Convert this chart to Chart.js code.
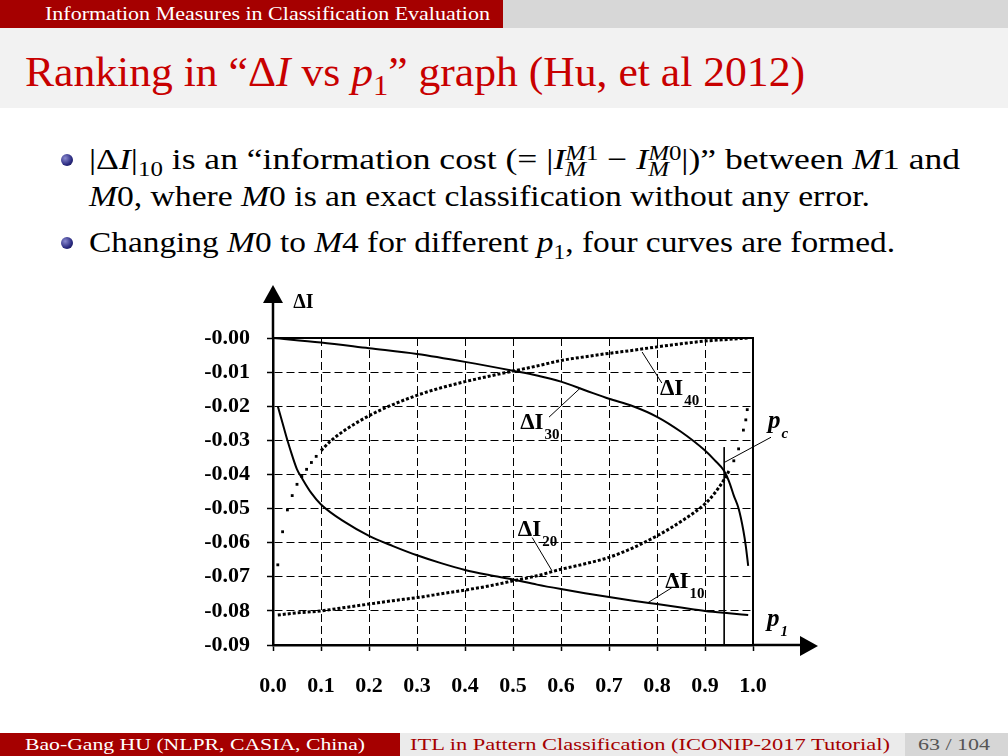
<!DOCTYPE html>
<html lang="en">
<head>
<meta charset="UTF-8">
<title>Ranking in ΔI vs p1 graph</title>
<script src="https://cdn.jsdelivr.net/npm/chart.js"></script>
<style>
  body { margin: 0; background: #fff; }
  .slide { position: relative; width: 1008px; height: 756px; overflow: hidden; background: #fff; font-family: 'Liberation Serif', serif; }
  .topbar { position: absolute; left: 0; top: 0; width: 1008px; height: 28px; background: #d7d7d7; }
  .topbar .sec { position: absolute; left: 0; top: 0; width: 503px; height: 28px; background: #a50000; }
  .topbar .sec span { position: absolute; left: 45px; top: 0; color: #fff; font-size: 18px; line-height: 28px; white-space: nowrap; }
  .titlebar { position: absolute; left: 0; top: 28px; width: 1008px; height: 80px; background: #f2f2f2; }
  .titlebar h1 { position: absolute; left: 25px; top: 23px; margin: 0; font-weight: normal; font-size: 42px; line-height: 42px; color: #c80000; white-space: nowrap; }
  .line { position: absolute; left: 89px; font-size: 30px; line-height: 30px; white-space: nowrap; color: #000; }
  .ss { display: inline-block; vertical-align: -0.35em; line-height: 0.8em; font-size: 0.7em; text-align: left; }
  .ss span { display: block; }
  .fit { transform-origin: 0 50%; }
  .bullet { position: absolute; width: 12px; height: 12px; border-radius: 50%; background: radial-gradient(circle at 35% 35%, #8a8ad0, #2a2a80 60%, #101040); }
  .footer { position: absolute; left: 0; top: 733px; width: 1008px; height: 23px; font-size: 16px; line-height: 23px; }
  .footer > div { position: absolute; top: 0; height: 23px; }
  .footer span { position: absolute; top: 0; white-space: nowrap; }
  .f1 { left: 0; width: 400px; background: #a50000; color: #fff; }
  .f2 { left: 400px; width: 505px; background: #ebebeb; color: #a50000; }
  .f3 { left: 905px; width: 103px; background: #d6d6d6; color: #555; }
  #chart { position: absolute; left: 160px; top: 270px; }
</style>
</head>
<body>
<div class="slide">
  <div class="topbar"><div class="sec"><span class="fit" data-w="445">Information Measures in Classification Evaluation</span></div></div>
  <div class="titlebar"><h1 class="fit" data-w="780">Ranking in “Δ<i>I</i> vs <i>p</i><sub style="font-size:0.7em">1</sub>” graph (Hu, et al 2012)</h1></div>

  <div class="bullet" style="left:61px; top:154px"></div>
  <div class="line fit" data-w="871" style="top:144px">|Δ<i>I</i>|<sub style="font-size:0.7em">10</sub> is an “information cost (= |<i>I</i><span class="ss"><span><i>M</i>1</span><span><i>M</i></span></span> − <i>I</i><span class="ss"><span><i>M</i>0</span><span><i>M</i></span></span>|)” between <i>M</i>1 and</div>
  <div class="line fit" data-w="781" style="top:181px"><i>M</i>0, where <i>M</i>0 is an exact classification without any error.</div>
  <div class="bullet" style="left:61px; top:237px"></div>
  <div class="line fit" data-w="806" style="top:227px">Changing <i>M</i>0 to <i>M</i>4 for different <i>p</i><sub style="font-size:0.7em">1</sub>, four curves are formed.</div>

  <canvas id="chart" width="690" height="440"></canvas>

  <div class="footer">
    <div class="f1"><span class="fit" data-w="340" style="left:25px">Bao-Gang HU (NLPR, CASIA, China)</span></div>
    <div class="f2"><span class="fit" data-w="480" style="left:10px">ITL in Pattern Classification (ICONIP-2017 Tutorial)</span></div>
    <div class="f3"><span class="fit" data-w="72" style="left:13px">63 / 104</span></div>
  </div>
</div>

<script>
  // stretch slide text to the widths of the original typesetting
  document.querySelectorAll('.fit').forEach(el => {
    const w = el.getBoundingClientRect().width;
    el.style.transform = 'scaleX(' + (Number(el.dataset.w) / w) + ')';
  });

  // p1 values and ΔI
  const p10 = [0.01, 0.02, 0.03, 0.04, 0.05, 0.06, 0.08, 0.1, 0.15, 0.2, 0.25, 0.3, 0.35, 0.4, 0.45, 0.5, 0.55, 0.6, 0.65, 0.7, 0.75, 0.8, 0.85, 0.9, 0.95, 0.99];
  const dI10 = [-0.020, -0.025, -0.030, -0.0345, -0.0385, -0.041, -0.0455, -0.0488, -0.054, -0.058, -0.061, -0.0637, -0.066, -0.068, -0.0695, -0.0708, -0.0723, -0.0736, -0.0748, -0.0759, -0.077, -0.078, -0.079, -0.080, -0.0807, -0.0812];

  // ΔI20: dotted, dense part then sparse dots near p1 = 1
  const p20 = [0.01, 0.05, 0.1, 0.15, 0.2, 0.25, 0.3, 0.35, 0.4, 0.45, 0.5, 0.55, 0.6, 0.65, 0.7, 0.75, 0.8, 0.85, 0.9, 0.92, 0.94, 0.95];
  const dI20 = [-0.0812, -0.0806, -0.080, -0.079, -0.078, -0.077, -0.0761, -0.075, -0.0739, -0.0727, -0.0712, -0.0697, -0.0678, -0.0662, -0.0643, -0.0615, -0.058, -0.0538, -0.0486, -0.0455, -0.0415, -0.039];
  const p20dots = [0.96, 0.97, 0.98, 0.985, 0.988];
  const dI20dots = [-0.036, -0.0325, -0.027, -0.024, -0.021];

  const p30 = [0.0, 0.1, 0.2, 0.3, 0.4, 0.5, 0.55, 0.6, 0.65, 0.7, 0.75, 0.8, 0.85, 0.9, 0.92, 0.94, 0.95, 0.96, 0.97, 0.98, 0.985, 0.99];
  const dI30 = [0.0, -0.0013, -0.003, -0.0047, -0.007, -0.0096, -0.011, -0.0128, -0.0153, -0.0178, -0.020, -0.0231, -0.0275, -0.033, -0.0358, -0.039, -0.042, -0.0462, -0.050, -0.0565, -0.061, -0.0668];

  // ΔI40: sparse dots near p1 = 0, then dotted curve
  const p40dots = [0.01, 0.02, 0.03, 0.04, 0.05, 0.06, 0.07, 0.08, 0.09];
  const dI40dots = [-0.0665, -0.0568, -0.0504, -0.0462, -0.0429, -0.0406, -0.0385, -0.0365, -0.0347];
  const p40 = [0.1, 0.12, 0.15, 0.2, 0.25, 0.3, 0.35, 0.4, 0.45, 0.5, 0.55, 0.6, 0.65, 0.7, 0.75, 0.8, 0.85, 0.9, 0.95, 0.99];
  const dI40 = [-0.033, -0.0302, -0.027, -0.0228, -0.0195, -0.0168, -0.0146, -0.0128, -0.0112, -0.0097, -0.0082, -0.0066, -0.0055, -0.0045, -0.0036, -0.0026, -0.0017, -0.0009, -0.0004, 0.0];

  // critical point p_c marker
  const pcX = [0.94, 0.94];
  const pcY = [-0.032, -0.09];

  const xTicks = [0, 0.1, 0.2, 0.3, 0.4, 0.5, 0.6, 0.7, 0.8, 0.9, 1.0];

  const pts = (xs, ys) => xs.map((x, i) => ({ x: x, y: ys[i] }));

  const solid = { showLine: true, borderColor: '#000', borderWidth: 2, pointRadius: 0, cubicInterpolationMode: 'monotone' };
  const dotted = { showLine: true, borderColor: '#000', borderWidth: 3, borderDash: [3, 2], borderCapStyle: 'butt', pointRadius: 0, cubicInterpolationMode: 'monotone' };
  const dots = { showLine: false, pointStyle: 'rect', pointRadius: 2, pointBorderWidth: 0, pointBackgroundColor: '#000' };

  // labels on the plot, in data coordinates
  const notes = [
    { text: 'ΔI', sub: '40', at: [0.806, -0.0168], line: [[0.769, -0.0041], [0.810, -0.0132]] },
    { text: 'ΔI', sub: '30', at: [0.515, -0.0268], line: [[0.575, -0.0232], [0.640, -0.0147]] },
    { text: 'ΔI', sub: '20', at: [0.510, -0.0579], line: [[0.540, -0.0585], [0.581, -0.0682]] },
    { text: 'ΔI', sub: '10', at: [0.817, -0.0732], line: [[0.831, -0.0732], [0.781, -0.0776]] },
    { text: 'p', sub: 'c', italic: true, at: [1.031, -0.0265], line: [[1.0375, -0.0291], [0.940, -0.0365]] },
    { text: 'p', sub: '1', italic: true, at: [1.029, -0.0844] },
    { text: 'ΔI', sub: '', small: true, at: [0.042, 0.0088] }
  ];

  const extras = {
    id: 'extras',
    afterDraw(chart) {
      const { ctx, chartArea: a, scales: { x, y } } = chart;
      ctx.save();
      ctx.strokeStyle = '#000';
      ctx.fillStyle = '#000';
      // top and right frame
      ctx.lineWidth = 2;
      ctx.beginPath();
      ctx.moveTo(a.left, a.top);
      ctx.lineTo(a.right, a.top);
      ctx.lineTo(a.right, a.bottom);
      ctx.stroke();
      // axis extensions and arrowheads
      ctx.lineWidth = 2.5;
      ctx.beginPath();
      ctx.moveTo(a.left, a.top);
      ctx.lineTo(a.left, a.top - 40);
      ctx.moveTo(a.right, a.bottom);
      ctx.lineTo(a.right + 50, a.bottom);
      ctx.stroke();
      ctx.beginPath();
      ctx.moveTo(a.left, a.top - 53);
      ctx.lineTo(a.left - 10, a.top - 35);
      ctx.lineTo(a.left + 10, a.top - 35);
      ctx.closePath();
      ctx.fill();
      ctx.beginPath();
      ctx.moveTo(a.right + 65, a.bottom + 1);
      ctx.lineTo(a.right + 47, a.bottom - 9);
      ctx.lineTo(a.right + 47, a.bottom + 11);
      ctx.closePath();
      ctx.fill();

      ctx.textBaseline = 'alphabetic';
      ctx.textAlign = 'left';
      notes.forEach(n => {
        if (n.line) {
          ctx.lineWidth = 1;
          ctx.beginPath();
          ctx.moveTo(x.getPixelForValue(n.line[0][0]), y.getPixelForValue(n.line[0][1]));
          ctx.lineTo(x.getPixelForValue(n.line[1][0]), y.getPixelForValue(n.line[1][1]));
          ctx.stroke();
        }
        const px = x.getPixelForValue(n.at[0]);
        const py = y.getPixelForValue(n.at[1]);
        const size = n.small ? 20 : (n.italic ? 25 : 23);
        ctx.font = (n.italic ? 'italic ' : '') + 'bold ' + size + 'px "Liberation Serif"';
        ctx.fillText(n.text, px, py);
        const w = ctx.measureText(n.text).width;
        ctx.font = (n.italic ? 'italic ' : '') + 'bold 15px "Liberation Serif"';
        ctx.fillText(n.sub, px + w + 1, py + 10);
      });
      ctx.restore();
    }
  };

  new Chart(document.getElementById('chart'), {
    type: 'scatter',
    data: {
      datasets: [
        Object.assign({ label: 'ΔI10', data: pts(p10, dI10) }, solid),
        Object.assign({ label: 'ΔI20', data: pts(p20, dI20) }, dotted),
        Object.assign({ label: 'ΔI20 dots', data: pts(p20dots, dI20dots) }, dots),
        Object.assign({ label: 'ΔI30', data: pts(p30, dI30) }, solid),
        Object.assign({ label: 'ΔI40 dots', data: pts(p40dots, dI40dots) }, dots),
        Object.assign({ label: 'ΔI40', data: pts(p40, dI40) }, dotted),
        { label: 'pc', data: pts(pcX, pcY), showLine: true, borderColor: '#000', borderWidth: 1, pointRadius: 0 }
      ]
    },
    options: {
      responsive: false,
      animation: false,
      devicePixelRatio: 1,
      layout: { padding: { left: 0, top: 68, right: 97, bottom: 0 } },
      plugins: { legend: { display: false }, tooltip: { enabled: false } },
      scales: {
        x: {
          type: 'linear',
          min: 0,
          max: 1,
          afterFit: s => { s.height = 65; },
          afterBuildTicks: s => { s.ticks = xTicks.map(v => ({ value: v })); },
          border: { display: true, color: '#000', width: 2.5, dash: [8, 4] },
          grid: {
            color: c => (c.tick && (c.tick.value === 0 || c.tick.value === 1)) ? 'rgba(0,0,0,0)' : '#000',
            lineWidth: 1,
            tickColor: '#000',
            tickLength: 6,
            tickWidth: 1.5
          },
          ticks: {
            color: '#000',
            padding: 22,
            maxRotation: 0,
            autoSkip: false,
            font: { family: 'Liberation Serif', size: 22, weight: 'bold' },
            callback: v => v.toFixed(1)
          }
        },
        y: {
          type: 'linear',
          min: -0.09,
          max: 0,
          afterFit: s => { s.width = 113; },
          border: { display: true, color: '#000', width: 2.5, dash: [8, 4] },
          grid: {
            color: c => (c.tick && (Math.abs(c.tick.value) < 1e-9 || c.tick.value < -0.0899)) ? 'rgba(0,0,0,0)' : '#000',
            lineWidth: 1,
            tickColor: '#000',
            tickLength: 6,
            tickWidth: 1.5
          },
          ticks: {
            color: '#000',
            stepSize: 0.01,
            padding: 17,
            autoSkip: false,
            font: { family: 'Liberation Serif', size: 22, weight: 'bold' },
            callback: v => '-' + Math.abs(v).toFixed(2)
          }
        }
      }
    },
    plugins: [extras]
  });
</script>
</body>
</html>
